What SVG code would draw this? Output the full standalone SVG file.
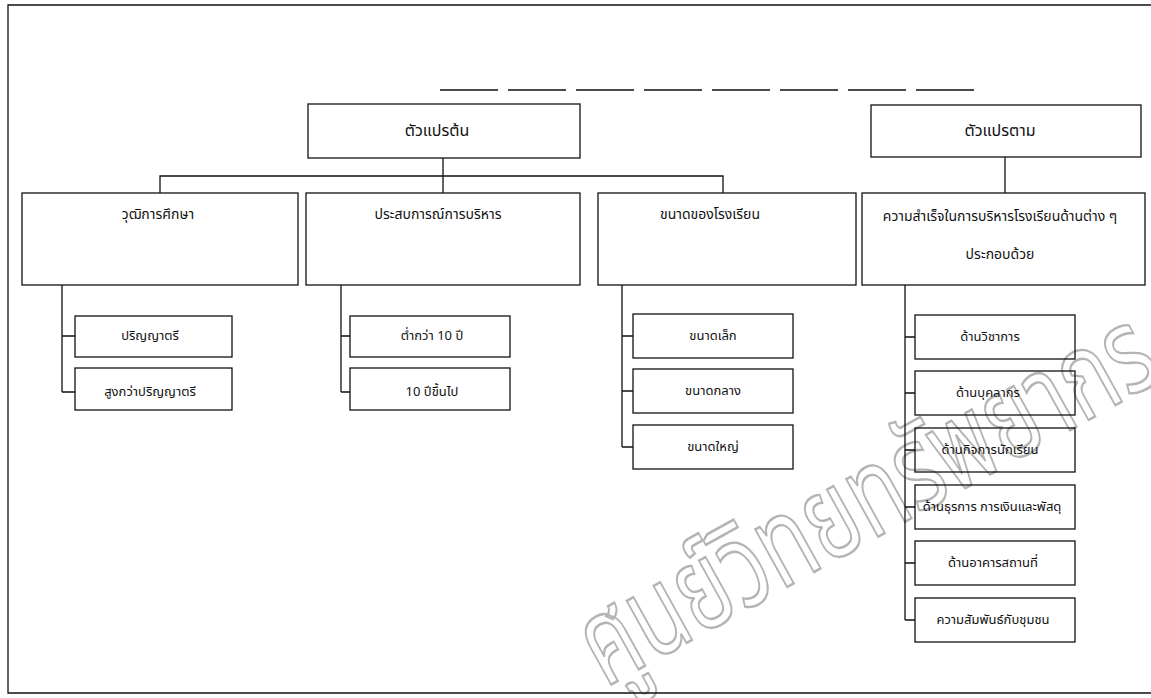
<svg xmlns="http://www.w3.org/2000/svg" width="1151" height="698" viewBox="0 0 1151 698">
<style>
.bx{fill:none;stroke:#111;stroke-width:1.3}
.ln{fill:none;stroke:#111;stroke-width:1.3}
.t{font-family:"Noto Sans Thai","Noto Sans","DejaVu Sans",sans-serif;fill:#111;text-anchor:middle;dominant-baseline:central}
.h{font-size:16px}
.m{font-size:14px}
.s{font-size:13px}
.wm{font-family:"Noto Sans Thai","Noto Sans","DejaVu Sans",sans-serif;font-size:120px;fill:none;stroke:#b4b4b4;stroke-width:2.5}
</style>
<rect width="1151" height="698" fill="#fff"/>
<g id="watermark">
<text class="wm" transform="translate(605,688) rotate(-29) scale(0.72,1)">ศูนย์วิทยทรัพยากร</text>
</g>
<g id="frame">
<path class="ln" d="M1151,5 H8 V693 H1151"/>
<line class="ln" x1="440" y1="90" x2="975" y2="90" stroke-dasharray="58 10"/>
</g>
<g id="connectors">
<path class="ln" d="M443,158 V193"/>
<path class="ln" d="M160,193 V176 H723 V193"/>
<path class="ln" d="M1005,157 V193"/>
<path class="ln" d="M62,285 V392 M62,336 H75 M62,392 H75"/>
<path class="ln" d="M341,285 V392 M341,336 H350 M341,392 H350"/>
<path class="ln" d="M622,285 V447 M622,336 H633 M622,391 H633 M622,447 H633"/>
<path class="ln" d="M905,285 V620 M905,337 H915 M905,393 H915 M905,450 H915 M905,507 H915 M905,563 H915 M905,620 H915"/>
</g>
<g id="n-independent">
<rect class="bx" x="308" y="104" width="272" height="54"/>
<text class="t h" x="437" y="131">ตัวแปรต้น</text>
</g>
<g id="n-dependent">
<rect class="bx" x="871" y="105" width="270" height="52"/>
<text class="t h" x="1000" y="131">ตัวแปรตาม</text>
</g>
<g id="n-education">
<rect class="bx" x="22" y="193" width="276" height="92"/>
<text class="t m" x="158" y="214">วุฒิการศึกษา</text>
</g>
<g id="n-experience">
<rect class="bx" x="306" y="193" width="274" height="92"/>
<text class="t m" x="438" y="214">ประสบการณ์การบริหาร</text>
</g>
<g id="n-size">
<rect class="bx" x="598" y="193" width="258" height="92"/>
<text class="t m" x="710" y="214">ขนาดของโรงเรียน</text>
</g>
<g id="n-success">
<rect class="bx" x="862" y="193" width="283" height="92"/>
<text class="t m" x="1000" y="216">ความสำเร็จในการบริหารโรงเรียนด้านต่าง ๆ</text>
<text class="t m" x="1000" y="254">ประกอบด้วย</text>
</g>
<g id="n-bachelor">
<rect class="bx" x="75" y="316" width="157" height="41"/>
<text class="t s" x="150" y="336">ปริญญาตรี</text>
</g>
<g id="n-above-bachelor">
<rect class="bx" x="75" y="368" width="157" height="42"/>
<text class="t s" x="150" y="392">สูงกว่าปริญญาตรี</text>
</g>
<g id="n-less10">
<rect class="bx" x="350" y="316" width="160" height="41"/>
<text class="t s" x="432" y="336">ต่ำกว่า 10 ปี</text>
</g>
<g id="n-10up">
<rect class="bx" x="350" y="368" width="160" height="42"/>
<text class="t s" x="432" y="392">10 ปีขึ้นไป</text>
</g>
<g id="n-small">
<rect class="bx" x="633" y="314" width="160" height="44"/>
<text class="t s" x="713" y="336">ขนาดเล็ก</text>
</g>
<g id="n-medium">
<rect class="bx" x="633" y="369" width="160" height="44"/>
<text class="t s" x="713" y="391">ขนาดกลาง</text>
</g>
<g id="n-large">
<rect class="bx" x="633" y="425" width="160" height="44"/>
<text class="t s" x="713" y="447">ขนาดใหญ่</text>
</g>
<g id="n-academic">
<rect class="bx" x="915" y="315" width="160" height="44"/>
<text class="t s" x="990" y="337">ด้านวิชาการ</text>
</g>
<g id="n-personnel">
<rect class="bx" x="915" y="371" width="160" height="44"/>
<text class="t s" x="988" y="393">ด้านบุคลากร</text>
</g>
<g id="n-student">
<rect class="bx" x="915" y="428" width="160" height="44"/>
<text class="t s" x="990" y="450">ด้านกิจการนักเรียน</text>
</g>
<g id="n-finance">
<rect class="bx" x="915" y="485" width="160" height="44"/>
<text class="t s" x="992" y="507">ด้านธุรการ การเงินและพัสดุ</text>
</g>
<g id="n-building">
<rect class="bx" x="915" y="541" width="160" height="44"/>
<text class="t s" x="993" y="563">ด้านอาคารสถานที่</text>
</g>
<g id="n-community">
<rect class="bx" x="915" y="598" width="160" height="44"/>
<text class="t s" x="993" y="620">ความสัมพันธ์กับชุมชน</text>
</g>
</svg>
